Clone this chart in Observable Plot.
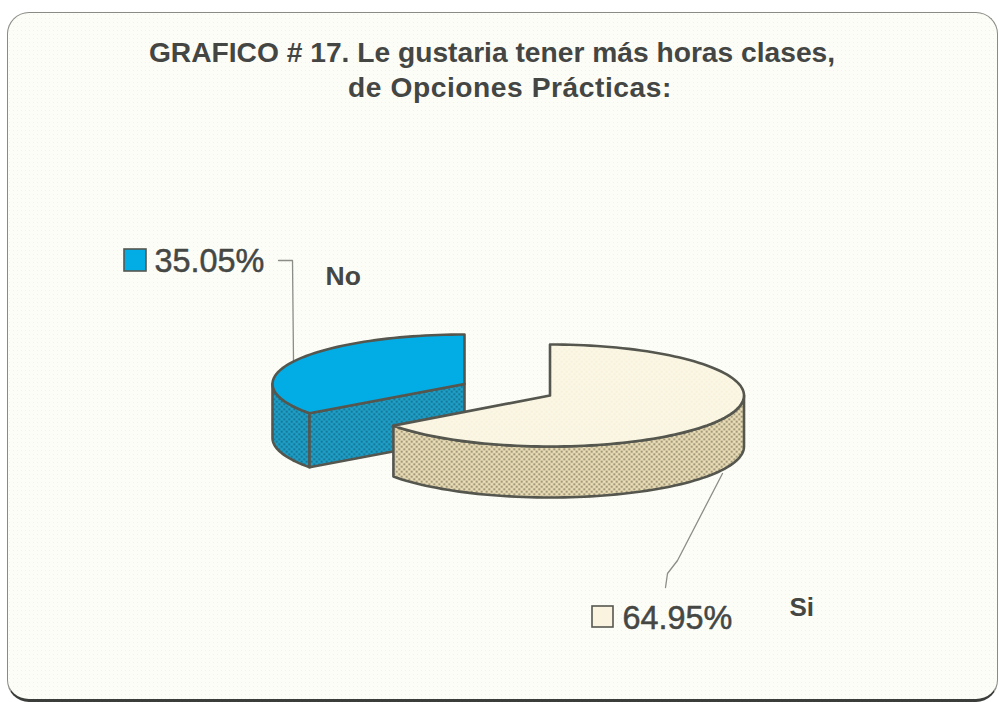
<!DOCTYPE html>
<html><head><meta charset="utf-8">
<script src="https://cdn.jsdelivr.net/npm/d3@7"></script>
<script src="https://cdn.jsdelivr.net/npm/@observablehq/plot@0.6"></script>
<style>
html,body{margin:0;padding:0;background:#fff;width:999px;height:702px;overflow:hidden}
#page{position:relative;width:999px;height:702px;overflow:hidden}
#panel{position:absolute;left:7px;top:12px;width:991px;height:690px;box-sizing:border-box;
 border:1.5px solid #8a8a86;border-bottom:3px solid #3a3d3a;border-radius:22px;
 background-color:#fdfdf7;
 background-image:radial-gradient(circle at 1.5px 1.5px,#f3f3e9 0.8px,transparent 1px);background-size:4px 4px}
#title{position:absolute;left:0;top:35px;width:984px;text-align:center;
 font:bold 28.2px/35px "Liberation Sans",Arial,sans-serif;color:#444644}
#title span{position:relative;left:18px;letter-spacing:0.55px}
#chart{position:absolute;left:0;top:0}
svg{background:transparent!important}
</style></head><body>
<div id="page"><div id="panel"></div>
<div id="title">GRAFICO # 17. Le gustaria tener más horas clases,<br><span>de Opciones Prácticas:</span></div>
<div id="chart"></div></div>
<script>
const categories = ["No", "Si"];
const shares = [35.05, 64.95];
const percentLabels = ["35.05%", "64.95%"];
const topColors = ["#02ade6", "#fbf7e6"];
const wallColors = ["#1fa0c8", "#ecdfb8"];
const swatchColors = ["#02ade6", "#f9f3e0"];

// layout of each exploded slice, in page pixels
const pieCenters = [[464, 383.5], [549.5, 395]];
const pieRadii = [[192, 49.5], [194, 51]];
const depths = [54, 51];

const leaderNo = [[278, 260], [292, 260], [293, 360]];
const leaderSi = [[665, 587], [667, 573], [677, 560], [722, 473]];

const total = d3.sum(shares);
// Si starts at 12 o'clock, clockwise; No fills the remainder
const spans = [[shares[1] / total * 360, 360], [0, shares[1] / total * 360]];

function rim(i, a0, a1, dz = 0) {
  const [cx, cy] = pieCenters[i], [rx, ry] = pieRadii[i], pts = [];
  const n = Math.max(2, Math.ceil(Math.abs(a1 - a0) / 2));
  for (let k = 0; k <= n; k++) {
    const t = (a0 + (a1 - a0) * k / n) * Math.PI / 180;
    pts.push([cx + rx * Math.sin(t), cy - ry * Math.cos(t) + dz]);
  }
  return pts;
}
const closed = p => [...p, p[0]];
const topFace = i => closed([pieCenters[i], ...rim(i, spans[i][0], spans[i][1])]);
const wall = (i, a0, a1) => closed([...rim(i, a0, a1), ...rim(i, a1, a0, depths[i])]);
const cutFace = i => {
  const c = pieCenters[i], e = rim(i, spans[i][0], spans[i][0])[0];
  return closed([c, e, [e[0], e[1] + depths[i]], [c[0], c[1] + depths[i]]]);
};

const shapeStyle = (fill) => ({x: d => d[0], y: d => d[1], fill, stroke: "#55574f", strokeWidth: 2.6, strokeLinejoin: "round", curve: "linear"});

const defs = () => {
  const d = d3.create("svg:defs");
  const mk = (id, bg, dot, o, r) => {
    const p = d.append("pattern").attr("id", id).attr("width", 5).attr("height", 5).attr("patternUnits", "userSpaceOnUse");
    p.append("rect").attr("width", 5).attr("height", 5).attr("fill", bg);
    p.append("circle").attr("cx", 1.25).attr("cy", 1.25).attr("r", r).attr("fill", dot).attr("fill-opacity", o);
    p.append("circle").attr("cx", 3.75).attr("cy", 3.75).attr("r", r).attr("fill", dot).attr("fill-opacity", o);
  };
  mk("wallNo", wallColors[0], "#0b556f", 0.8, 1.05);
  mk("wallSi", wallColors[1], "#5f5b42", 0.8, 1.05);
  mk("topSi", topColors[1], "#f0e6bf", 0.55, 0.9);
  return d.node();
};

const text = (x, y, t, size, weight, sw = 0) => Plot.text([t], {x: () => x, y: () => y, text: d => d, fontSize: size, fontWeight: weight, textAnchor: "start", fill: "#454744", stroke: sw ? "#454744" : "none", strokeWidth: sw, lineAnchor: "bottom", fontFamily: "Liberation Sans, Arial, sans-serif"});

const chart = Plot.plot({
  width: 999, height: 702, margin: 0,
  x: {domain: [0, 999], range: [0, 999], axis: null},
  y: {domain: [0, 702], range: [0, 702], axis: null},
  style: {background: "transparent"},
  marks: [
    defs,
    Plot.line(leaderNo, {x: d => d[0], y: d => d[1], stroke: "#8b8d88", strokeWidth: 1.3, curve: "linear"}),
    Plot.line(leaderSi, {x: d => d[0], y: d => d[1], stroke: "#8b8d88", strokeWidth: 1.3, curve: "linear"}),
    // No slice
    Plot.line(wall(0, spans[0][0], 270), shapeStyle("url(#wallNo)")),
    Plot.line(cutFace(0), shapeStyle("url(#wallNo)")),
    Plot.line(topFace(0), shapeStyle(topColors[0])),
    // Si slice
    Plot.line(wall(1, 90, spans[1][1]), shapeStyle("url(#wallSi)")),
    Plot.line(topFace(1), shapeStyle("url(#topSi)")),
    // legend swatches and labels
    Plot.rect([0], {x1: () => 124, x2: () => 146, y1: () => 249, y2: () => 271, fill: swatchColors[0], stroke: "#55574f", strokeWidth: 1.6}),
    Plot.rect([0], {x1: () => 592, x2: () => 613, y1: () => 606, y2: () => 627, fill: swatchColors[1], stroke: "#55574f", strokeWidth: 1.6}),
    text(154, 271, percentLabels[0], 32.4, 400, 0.5),
    text(622, 628, percentLabels[1], 32.4, 400, 0.5),
    text(325, 284, categories[0], 26.5, 700),
    text(789, 615, categories[1], 26, 700)
  ]
});
document.getElementById("chart").append(chart);
</script>
</body></html>
